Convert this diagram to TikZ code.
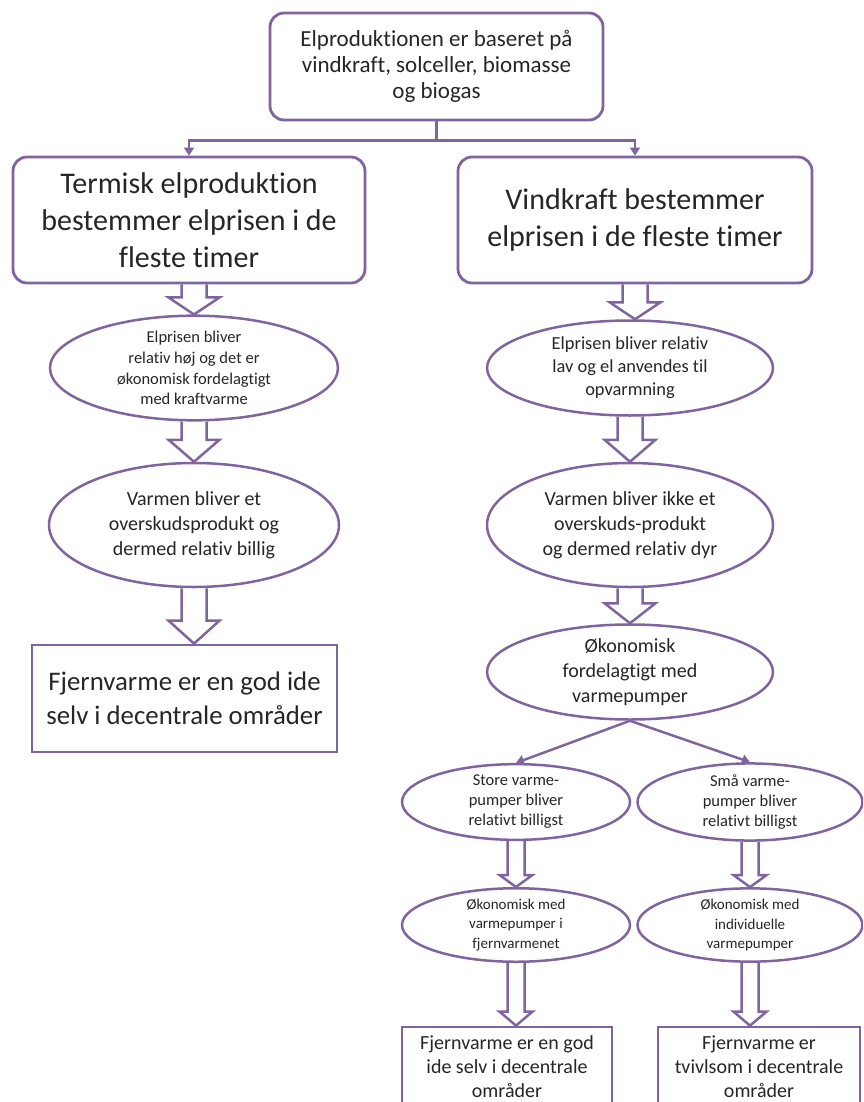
\documentclass[tikz,border=0pt]{standalone}
\usepackage{fontspec}
\setmainfont{Carlito}[Ligatures=NoCommon]
\usetikzlibrary{shapes.geometric,arrows.meta,calc}

\definecolor{lilla}{HTML}{8064A2}
\definecolor{tekst}{HTML}{262626}
\newcommand{\fs}[2]{\fontsize{#1}{#2}\selectfont}

% hollow block arrow: start, tip, half shaft, half head, head length
\newcommand{\hollowarrow}[5]{%
    \draw[hollow] ($#1+(-#3,0)$) -- ($#2+(-#3,-#5)$) -- ($#2+(-#4,-#5)$) -- #2
        -- ($#2+(#4,-#5)$) -- ($#2+(#3,-#5)$) -- ($#1+(#3,0)$);
}

\tikzset{
    rbox/.style={draw=lilla, line width=2.8pt, rounded corners=14pt, fill=white, text=tekst, align=center, inner sep=0pt},
    sbox/.style={draw=lilla, line width=2.8pt, fill=white, text=tekst, align=center, inner sep=0pt},
    oval/.style={ellipse, draw=lilla, line width=2.5pt, fill=white, text=tekst, align=center, inner sep=0pt},
    hollow/.style={draw=lilla, line width=2.5pt, line join=miter},
    thinarrow/.style={draw=lilla, line width=2.5pt, -{Triangle[length=8pt,width=10pt]}},
}

\begin{document}
\begin{tikzpicture}[x=1pt, y=-1pt]
    \clip (0,0) rectangle (863,1102);

    % Top
    \node[rbox, minimum width=333pt, minimum height=107pt, font=\fs{23}{26}] (top) at (436.5,66.5)
        {Elproduktionen er baseret på\\vindkraft, solceller, biomasse\\og biogas};

    % Left branch
    \node[rbox, minimum width=352pt, minimum height=126pt, font=\fs{30}{37}] (lbox) at (189,220)
        {Termisk elproduktion\\bestemmer elprisen i de\\fleste timer};
    \node[oval, minimum width=288pt, minimum height=97pt, font=\fs{16.5}{20.8}] (lell1) at (194,368)
        {Elprisen bliver\\relativ høj og det er\\økonomisk fordelagtigt\\med kraftvarme};
    \node[oval, minimum width=290pt, minimum height=124pt, font=\fs{20}{25}] (lell2) at (194,525)
        {Varmen bliver et\\overskudsprodukt og\\dermed relativ billig};
    \node[sbox, minimum width=305pt, minimum height=107pt, font=\fs{26.8}{34}] (lend) at (184.5,698.5)
        {Fjernvarme er en god ide\\selv i decentrale områder};

    % Right branch
    \node[rbox, minimum width=354pt, minimum height=126pt, font=\fs{30}{37}] (rbox) at (635,220)
        {Vindkraft bestemmer\\elprisen i de fleste timer};
    \node[oval, minimum width=286pt, minimum height=95pt, font=\fs{18.4}{23}] (rell1) at (630,368)
        {Elprisen bliver relativ\\lav og el anvendes til\\opvarmning};
    \node[oval, minimum width=286pt, minimum height=124pt, font=\fs{20}{25}] (rell2) at (630,525)
        {Varmen bliver ikke et\\overskuds-produkt\\og dermed relativ dyr};
    \node[oval, minimum width=286pt, minimum height=95pt, font=\fs{20}{25}] (rell3) at (630,672)
        {Økonomisk\\fordelagtigt med\\varmepumper};

    % Heat pump split
    \node[oval, minimum width=228pt, minimum height=65pt, font=\fs{16.5}{20}] (sell1) at (516,802)
        {Store varme-\\pumper bliver\\relativt billigst};
    \node[oval, minimum width=225pt, minimum height=65pt, font=\fs{16.5}{20}] (sell2) at (750,802)
        {Små varme-\\pumper bliver\\relativt billigst};
    \node[oval, minimum width=228pt, minimum height=65pt, font=\fs{15}{19.5}] (sell3) at (516,925)
        {Økonomisk med\\varmepumper i\\fjernvarmenet};
    \node[oval, minimum width=225pt, minimum height=65pt, font=\fs{15}{19.5}] (sell4) at (750,925)
        {Økonomisk med\\individuelle\\varmepumper};
    \node[sbox, minimum width=210pt, minimum height=80pt, font=\fs{20}{24}] (send1) at (507,1067)
        {Fjernvarme er en god\\ide selv i decentrale\\områder};
    \node[sbox, minimum width=202pt, minimum height=80pt, font=\fs{20}{24}] (send2) at (759,1067)
        {Fjernvarme er\\tvivlsom i decentrale\\områder};

    % Connectors
    \draw[thinarrow] (top.south) -- ++(0,19) -| (lbox.north);
    \draw[thinarrow] (top.south) -- ++(0,19) -| (rbox.north);
    \draw[thinarrow] (rell3.south) -- (sell1.north);
    \draw[thinarrow] (rell3.south) -- (sell2.north);

    \hollowarrow{(lbox.south -| lell1.north)}{(lell1.north)}{12.5}{25.5}{17}
    \hollowarrow{(lell1.south)}{(lell1.south |- lell2.north)}{12.5}{25.5}{22}
    \hollowarrow{(lell2.south)}{(lell2.south |- lend.north)}{12.5}{25.5}{23}
    \hollowarrow{(rbox.south)}{(rbox.south |- rell1.north)}{12.5}{25.5}{17}
    \hollowarrow{(rell1.south)}{(rell1.south |- rell2.north)}{12.5}{25.5}{22}
    \hollowarrow{(rell2.south)}{(rell2.south |- rell3.north)}{12.5}{25.5}{20}
    \hollowarrow{(sell1.south)}{(sell1.south |- sell3.north)}{8.5}{16.5}{12}
    \hollowarrow{(sell2.south)}{(sell2.south |- sell4.north)}{8.5}{16.5}{12}
    \hollowarrow{(sell3.south)}{(sell3.south |- send1.north)}{8.5}{16.5}{14}
    \hollowarrow{(sell4.south)}{(sell4.south |- send2.north)}{8.5}{16.5}{14}

\end{tikzpicture}
\end{document}
